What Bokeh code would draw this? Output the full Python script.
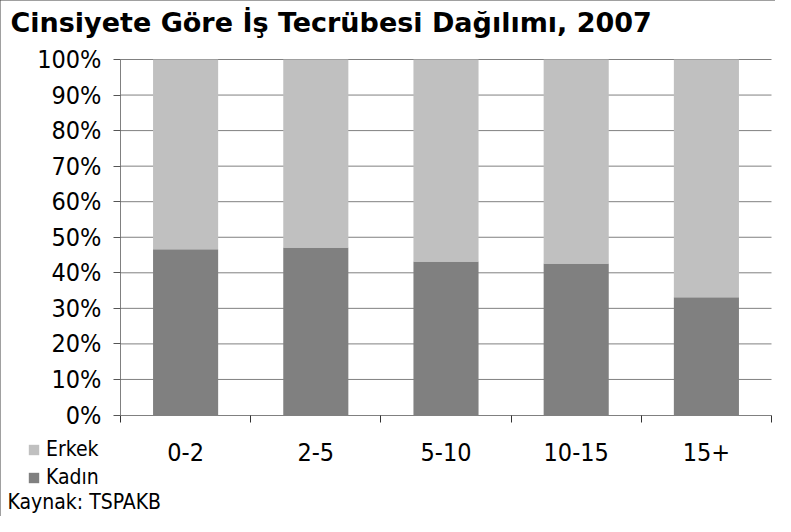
from bokeh.plotting import figure
from bokeh.models import (Range1d, FixedTicker, PrintfTickFormatter, CustomJSTickFormatter,
                          Legend, LegendItem, Label, ColumnDataSource)
from bokeh.embed import file_html
from bokeh.resources import INLINE

categories = ["0-2", "2-5", "5-10", "10-15", "15+"]
kadin = [46.6, 47.1, 43.2, 42.6, 33.1]
erkek = [53.4, 52.9, 56.8, 57.4, 66.9]
y_ticks = [0, 10, 20, 30, 40, 50, 60, 70, 80, 90, 100]
title_text = "Cinsiyete Göre İş Tecrübesi Dağılımı, 2007"
source_text = "Kaynak: TSPAKB"

FONT = "DejaVu Sans Condensed"
W, H = 775, 516
PX_LEFT, PX_RIGHT = 120, 771    # where the category axis starts / ends
PX_Y100, PX_Y0 = 59, 414.5      # where 100 % and 0 % lie

n = len(categories)
centers = [i + 0.5 for i in range(n)]
bounds = list(range(n + 1))
ymax = y_ticks[-1]

# ranges chosen so that the frame covers the whole canvas
ux = n / (PX_RIGHT - PX_LEFT)
uy = ymax / (PX_Y0 - PX_Y100)
x_range = Range1d(-PX_LEFT * ux, n + (W - PX_RIGHT) * ux)
y_range = Range1d(-(H - PX_Y0) * uy, ymax + PX_Y100 * uy)

src = ColumnDataSource(dict(x=centers, cat=categories, kadin=kadin, erkek=erkek))

p = figure(width=W, height=H, output_backend="svg", toolbar_location=None,
           x_range=x_range, y_range=y_range, title_location=None,
           min_border_left=0, min_border_right=0, min_border_top=0, min_border_bottom=0)
p.background_fill_color = "white"
p.border_fill_color = "white"
p.outline_line_color = None
p.styles = {"outline": "2px solid #404040", "outline-offset": "-2px"}

# horizontal gridlines between the axes
p.segment(x0=[0] * (len(y_ticks) - 1), x1=[n] * (len(y_ticks) - 1),
          y0=y_ticks[1:], y1=y_ticks[1:], line_color="#808080", line_width=1)

r = p.vbar_stack(["kadin", "erkek"], x="x", width=0.5, source=src,
                 color=["#808080", "#C0C0C0"], line_color=None)

p.xgrid.visible = False
p.ygrid.visible = False

# title
p.add_layout(Label(x=10, y=H - 22, x_units="screen", y_units="screen", text=title_text,
                   text_font="DejaVu Sans", text_font_size="27px", text_font_style="bold",
                   text_color="black", text_baseline="alphabetic"))

# axes
yax = p.yaxis[0]
yax.fixed_location = 0
yax.bounds = (0, ymax)
yax.ticker = FixedTicker(ticks=y_ticks, minor_ticks=[])
yax.formatter = PrintfTickFormatter(format="%d%%")
yax.major_tick_out = 7
yax.major_tick_in = 0
yax.minor_tick_out = 0
yax.axis_line_color = "#808080"
yax.major_tick_line_color = "#555555"
yax.major_label_text_font = FONT
yax.major_label_text_font_size = "25px"
yax.major_label_text_color = "black"
yax.major_label_standoff = 12

xax = p.xaxis[0]
xax.fixed_location = 0
xax.bounds = (0, n)
xax.ticker = FixedTicker(ticks=centers, minor_ticks=bounds)
xax.formatter = CustomJSTickFormatter(args=dict(cats=categories),
                                      code="return cats[Math.floor(tick)];")
xax.major_tick_out = 0
xax.major_tick_in = 0
xax.minor_tick_out = 7
xax.minor_tick_in = 0
xax.minor_tick_line_color = "#333333"
xax.axis_line_color = "#808080"
xax.major_label_text_font = FONT
xax.major_label_text_font_size = "25px"
xax.major_label_text_color = "black"
xax.major_label_standoff = 21

# legend
legend = Legend(items=[LegendItem(label="Erkek", renderers=[r[1]]),
                       LegendItem(label="Kadın", renderers=[r[0]])],
                location=(27, 27), padding=0, margin=0, spacing=4,
                glyph_width=13, glyph_height=13, label_height=13, label_standoff=6,
                label_text_font=FONT, label_text_font_size="21px",
                label_text_color="black",
                border_line_color=None, background_fill_alpha=0)
p.add_layout(legend, "center")

p.add_layout(Label(x=7, y=3, x_units="screen", y_units="screen", text=source_text,
                   text_font=FONT, text_font_size="21px", text_color="black",
                   text_baseline="bottom"))

open("out.html", "w").write(file_html(p, INLINE))
